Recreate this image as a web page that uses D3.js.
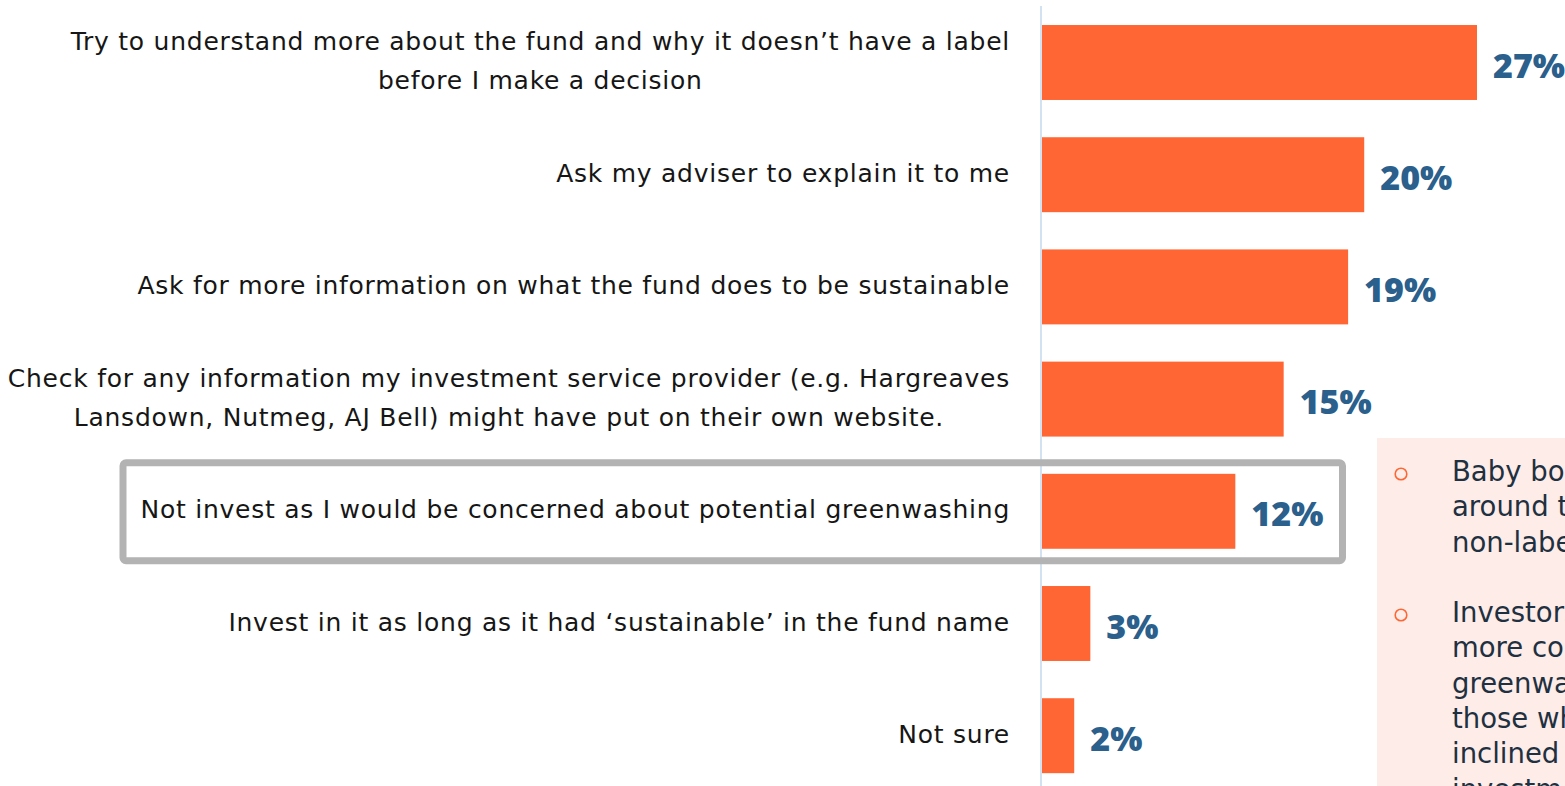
<!DOCTYPE html>
<html>
<head>
<meta charset="utf-8">
<script src="https://cdn.jsdelivr.net/npm/d3@7"></script>
<style>
  html, body { margin: 0; padding: 0; background: #ffffff; overflow: hidden; }
  svg { display: block; }
</style>
</head>
<body>
<svg id="chart" width="1565" height="786"></svg>
<script>
// Survey answers: what would you do with a fund that has no sustainability label?
const categoryLines = [
  ["Try to understand more about the fund and why it doesn’t have a label", "before I make a decision"],
  ["Ask my adviser to explain it to me"],
  ["Ask for more information on what the fund does to be sustainable"],
  ["Check for any information my investment service provider (e.g. Hargreaves", "Lansdown, Nutmeg, AJ Bell) might have put on their own website."],
  ["Not invest as I would be concerned about potential greenwashing"],
  ["Invest in it as long as it had ‘sustainable’ in the fund name"],
  ["Not sure"]
];
const categories = categoryLines.map(l => l.join(" "));
const values = [27, 20, 19, 15, 12, 3, 2];
const highlighted = "Not invest as I would be concerned about potential greenwashing";

// Side notes (the panel runs past the right edge of the page)
const noteLines = [
  ["Baby boomers are the most likely to want to research", "around the fund before deciding on a", "non-labelled fund"],
  ["Investors who have sustainable investments are", "more concerned about potential", "greenwashing than", "those who are not", "inclined towards sustainable", "investments"]
];

const svg = d3.select("#chart");
const W = 1565, H = 786;

const barColor = "#ff6633";
const valueColor = "#2b5f8c";
const labelColor = "#161616";
const textFont = "'DejaVu Sans', sans-serif";

const x0 = 1042;
const x = d3.scaleLinear().domain([0, 27]).range([x0, 1477]);
const y = d3.scaleBand()
  .domain(categories)
  .range([6.4, 791.8])
  .paddingInner(0.332)
  .paddingOuter(0.166);

// Note panel on the right, clipped by the page edge
svg.append("clipPath").attr("id", "page")
  .append("rect").attr("width", W).attr("height", H);
const panel = svg.append("g").attr("clip-path", "url(#page)");
panel.append("rect")
  .attr("x", 1377).attr("y", 438)
  .attr("width", W - 1377 + 10).attr("height", H - 438 + 10)
  .attr("fill", "#fdece8");

const noteStarts = [471, 612];
const noteLH = 35.3;
noteLines.forEach((lines, i) => {
  panel.append("circle")
    .attr("cx", 1401).attr("cy", noteStarts[i] + 3)
    .attr("r", 5.8)
    .attr("fill", "none")
    .attr("stroke", barColor)
    .attr("stroke-width", 1.6);
  const t = panel.append("text")
    .attr("font-family", textFont)
    .attr("font-size", 27.5)
    .attr("fill", "#1f3040")
    .attr("dominant-baseline", "central");
  lines.forEach((ln, j) => {
    t.append("tspan").attr("x", 1452).attr("y", noteStarts[i] + j * noteLH).text(ln);
  });
});

// Baseline axis
svg.append("line")
  .attr("x1", x0 - 1).attr("x2", x0 - 1)
  .attr("y1", 6).attr("y2", H)
  .attr("stroke", "#c8dbee")
  .attr("stroke-width", 1.6);

// Highlight frame around one answer
const hy = y(highlighted);
svg.append("rect")
  .attr("x", 123).attr("y", hy - 11)
  .attr("width", 1342.5 - 123)
  .attr("height", y.bandwidth() + 23)
  .attr("rx", 3)
  .attr("fill", "none")
  .attr("stroke", "#b3b3b3")
  .attr("stroke-width", 7);

// Bars
svg.append("g").selectAll("rect")
  .data(values)
  .join("rect")
  .attr("x", x0)
  .attr("y", (d, i) => y(categories[i]))
  .attr("width", d => x(d) - x0)
  .attr("height", y.bandwidth())
  .attr("fill", barColor);

// Value labels
svg.append("g").selectAll("text")
  .data(values)
  .join("text")
  .attr("x", d => x(d) + 16)
  .attr("y", (d, i) => y(categories[i]) + y.bandwidth() / 2 + 2)
  .attr("dominant-baseline", "central")
  .attr("font-family", "'Open Sans', sans-serif")
  .attr("font-weight", 800)
  .attr("font-size", 34)
  .attr("fill", valueColor)
  .text(d => d + "%");

// Category labels: block right-aligned at the axis gap, lines centred within the block
const labelRight = 1010;
const lineGap = 39;
const labels = svg.append("g")
  .attr("font-family", textFont)
  .attr("font-size", 25)
  .attr("letter-spacing", 0.75)
  .attr("fill", labelColor);

categoryLines.forEach((lines, i) => {
  const cy = y(categories[i]) + y.bandwidth() / 2 - 2;
  const t = labels.append("text").attr("dominant-baseline", "central");
  const spans = lines.map((ln, j) =>
    t.append("tspan")
      .attr("y", cy + (j - (lines.length - 1) / 2) * lineGap)
      .text(ln));
  const widths = spans.map(s => s.node().getComputedTextLength());
  const maxW = d3.max(widths);
  const centre = labelRight - maxW / 2;
  spans.forEach(s => s.attr("x", centre).attr("text-anchor", "middle"));
});
</script>
</body>
</html>
